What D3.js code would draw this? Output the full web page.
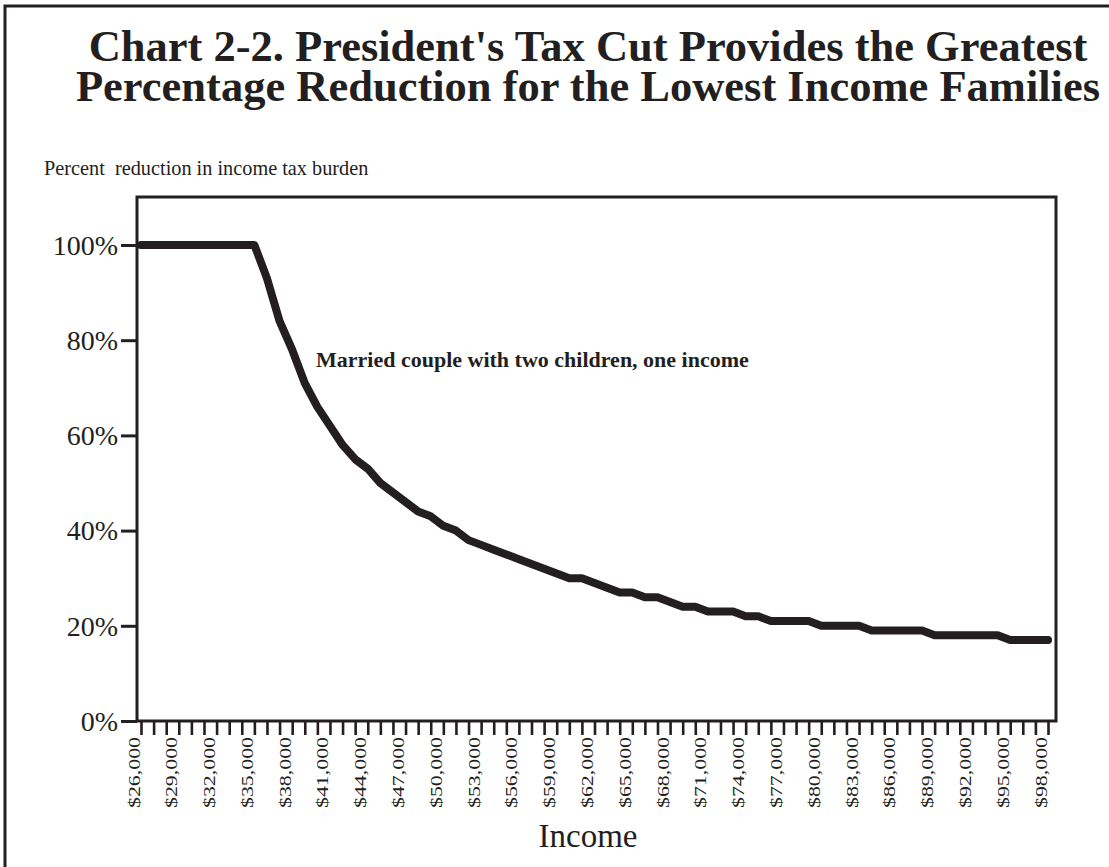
<!DOCTYPE html>
<html>
<head>
<meta charset="utf-8">
<script src="https://cdn.jsdelivr.net/npm/d3@7"></script>
<style>
  html, body { margin: 0; padding: 0; background: #ffffff; }
  svg { display: block; }
  text { font-family: "Liberation Serif", "Times New Roman", serif; fill: #231f20; }
</style>
</head>
<body>
<svg id="chart" width="1109" height="867"></svg>
<script>
// ---- data ----
const incomes = [26000,27000,28000,29000,30000,31000,32000,33000,34000,35000,
  36000,37000,38000,39000,40000,41000,42000,43000,44000,45000,
  46000,47000,48000,49000,50000,51000,52000,53000,54000,55000,
  56000,57000,58000,59000,60000,61000,62000,63000,64000,65000,
  66000,67000,68000,69000,70000,71000,72000,73000,74000,75000,
  76000,77000,78000,79000,80000,81000,82000,83000,84000,85000,
  86000,87000,88000,89000,90000,91000,92000,93000,94000,95000,
  96000,97000,98000];
const reduction = [100,100,100,100,100,100,100,100,100,100,
  93,84,78,71,66,62,58,55,53,50,
  48,46,44,43,41,40,38,37,36,35,
  34,33,32,31,30,30,29,28,27,27,
  26,26,25,24,24,23,23,23,22,22,
  21,21,21,21,20,20,20,20,19,19,
  19,19,19,18,18,18,18,18,18,17,
  17,17,17];
const xTickLabelValues = [26000,29000,32000,35000,38000,41000,44000,47000,50000,53000,56000,59000,62000,
  65000,68000,71000,74000,77000,80000,83000,86000,89000,92000,95000,98000];
const xTickLabels = ["$26,000","$29,000","$32,000","$35,000","$38,000","$41,000","$44,000","$47,000",
  "$50,000","$53,000","$56,000","$59,000","$62,000","$65,000","$68,000","$71,000","$74,000","$77,000",
  "$80,000","$83,000","$86,000","$89,000","$92,000","$95,000","$98,000"];
const yTickValues = [0,20,40,60,80,100];
const yTickLabels = ["0%","20%","40%","60%","80%","100%"];
const titleLines = ["Chart 2-2. President's Tax Cut Provides the Greatest",
  "Percentage Reduction for the Lowest Income Families"];
const yAxisTitle = "Percent  reduction in income tax burden";
const xAxisTitle = "Income";
const seriesLabel = "Married couple with two children, one income";

// ---- layout ----
const ink = "#231f20";
const svg = d3.select("#chart");
const frame = {left: 137, right: 1056, top: 197, bottom: 721};

const x = d3.scaleLinear().domain([26000, 98000]).range([141, 1048]);
const y = d3.scaleLinear().domain([0, 100]).range([721, 245]);

// outer frame (left and top edges)
svg.append("path")
  .attr("d", "M5,867 V6 H1109")
  .attr("fill", "none").attr("stroke", ink).attr("stroke-width", 3);

// title (one text block, two lines)
svg.append("text")
  .attr("text-anchor", "middle")
  .attr("font-size", 44.5).attr("font-weight", "bold")
  .selectAll("tspan").data(titleLines).join("tspan")
  .attr("x", 588).attr("y", (d, i) => 61 + i * 40)
  .text(d => d);

// y axis title
svg.append("text")
  .attr("x", 44).attr("y", 175)
  .attr("font-size", 20.3)
  .style("white-space", "pre")
  .text(yAxisTitle);

// plot frame
svg.append("rect")
  .attr("x", frame.left).attr("y", frame.top)
  .attr("width", frame.right - frame.left).attr("height", frame.bottom - frame.top)
  .attr("fill", "none").attr("stroke", ink).attr("stroke-width", 3);

// y axis
const yLabelMap = new Map(yTickValues.map((v, i) => [v, yTickLabels[i]]));
const yAxis = svg.append("g")
  .attr("transform", `translate(${frame.left},0)`)
  .call(d3.axisLeft(y).tickValues(yTickValues).tickSize(16).tickPadding(3)
    .tickFormat(d => yLabelMap.get(d)));
yAxis.select(".domain").remove();
yAxis.selectAll(".tick line").attr("stroke", ink).attr("stroke-width", 3);
yAxis.selectAll(".tick text")
  .attr("font-family", "Liberation Serif, Times New Roman, serif")
  .attr("font-size", 28).attr("fill", ink).attr("dy", "0.33em");

// x axis
const xLabelMap = new Map(xTickLabelValues.map((v, i) => [v, xTickLabels[i]]));
const xAxis = svg.append("g")
  .attr("transform", `translate(0,${frame.bottom})`)
  .call(d3.axisBottom(x).tickValues(incomes).tickSize(14)
    .tickFormat(d => xLabelMap.get(d) || ""));
xAxis.select(".domain").remove();
xAxis.selectAll(".tick line").attr("stroke", ink).attr("stroke-width", 2.6);
xAxis.selectAll(".tick text")
  .attr("font-family", "Liberation Serif, Times New Roman, serif")
  .attr("font-size", 17).attr("fill", ink)
  .attr("text-anchor", "end")
  .attr("transform", "rotate(-90)")
  .attr("x", -16).attr("y", -2).attr("dy", 0)
  .each(function(d) { if (xLabelMap.get(d)) { d3.select(this).attr("textLength", 71).attr("lengthAdjust", "spacingAndGlyphs"); } });

// x axis title
svg.append("text")
  .attr("x", 588).attr("y", 847)
  .attr("text-anchor", "middle")
  .attr("font-size", 33)
  .text(xAxisTitle);

// line
const line = d3.line().x((d, i) => x(incomes[i])).y(d => y(d));
svg.append("path")
  .datum(reduction)
  .attr("d", line)
  .attr("fill", "none").attr("stroke", ink).attr("stroke-width", 8)
  .attr("stroke-linejoin", "round").attr("stroke-linecap", "round");

// series label
svg.append("text")
  .attr("x", 316).attr("y", 367)
  .attr("font-size", 22).attr("font-weight", "bold")
  .text(seriesLabel);
</script>
</body>
</html>
